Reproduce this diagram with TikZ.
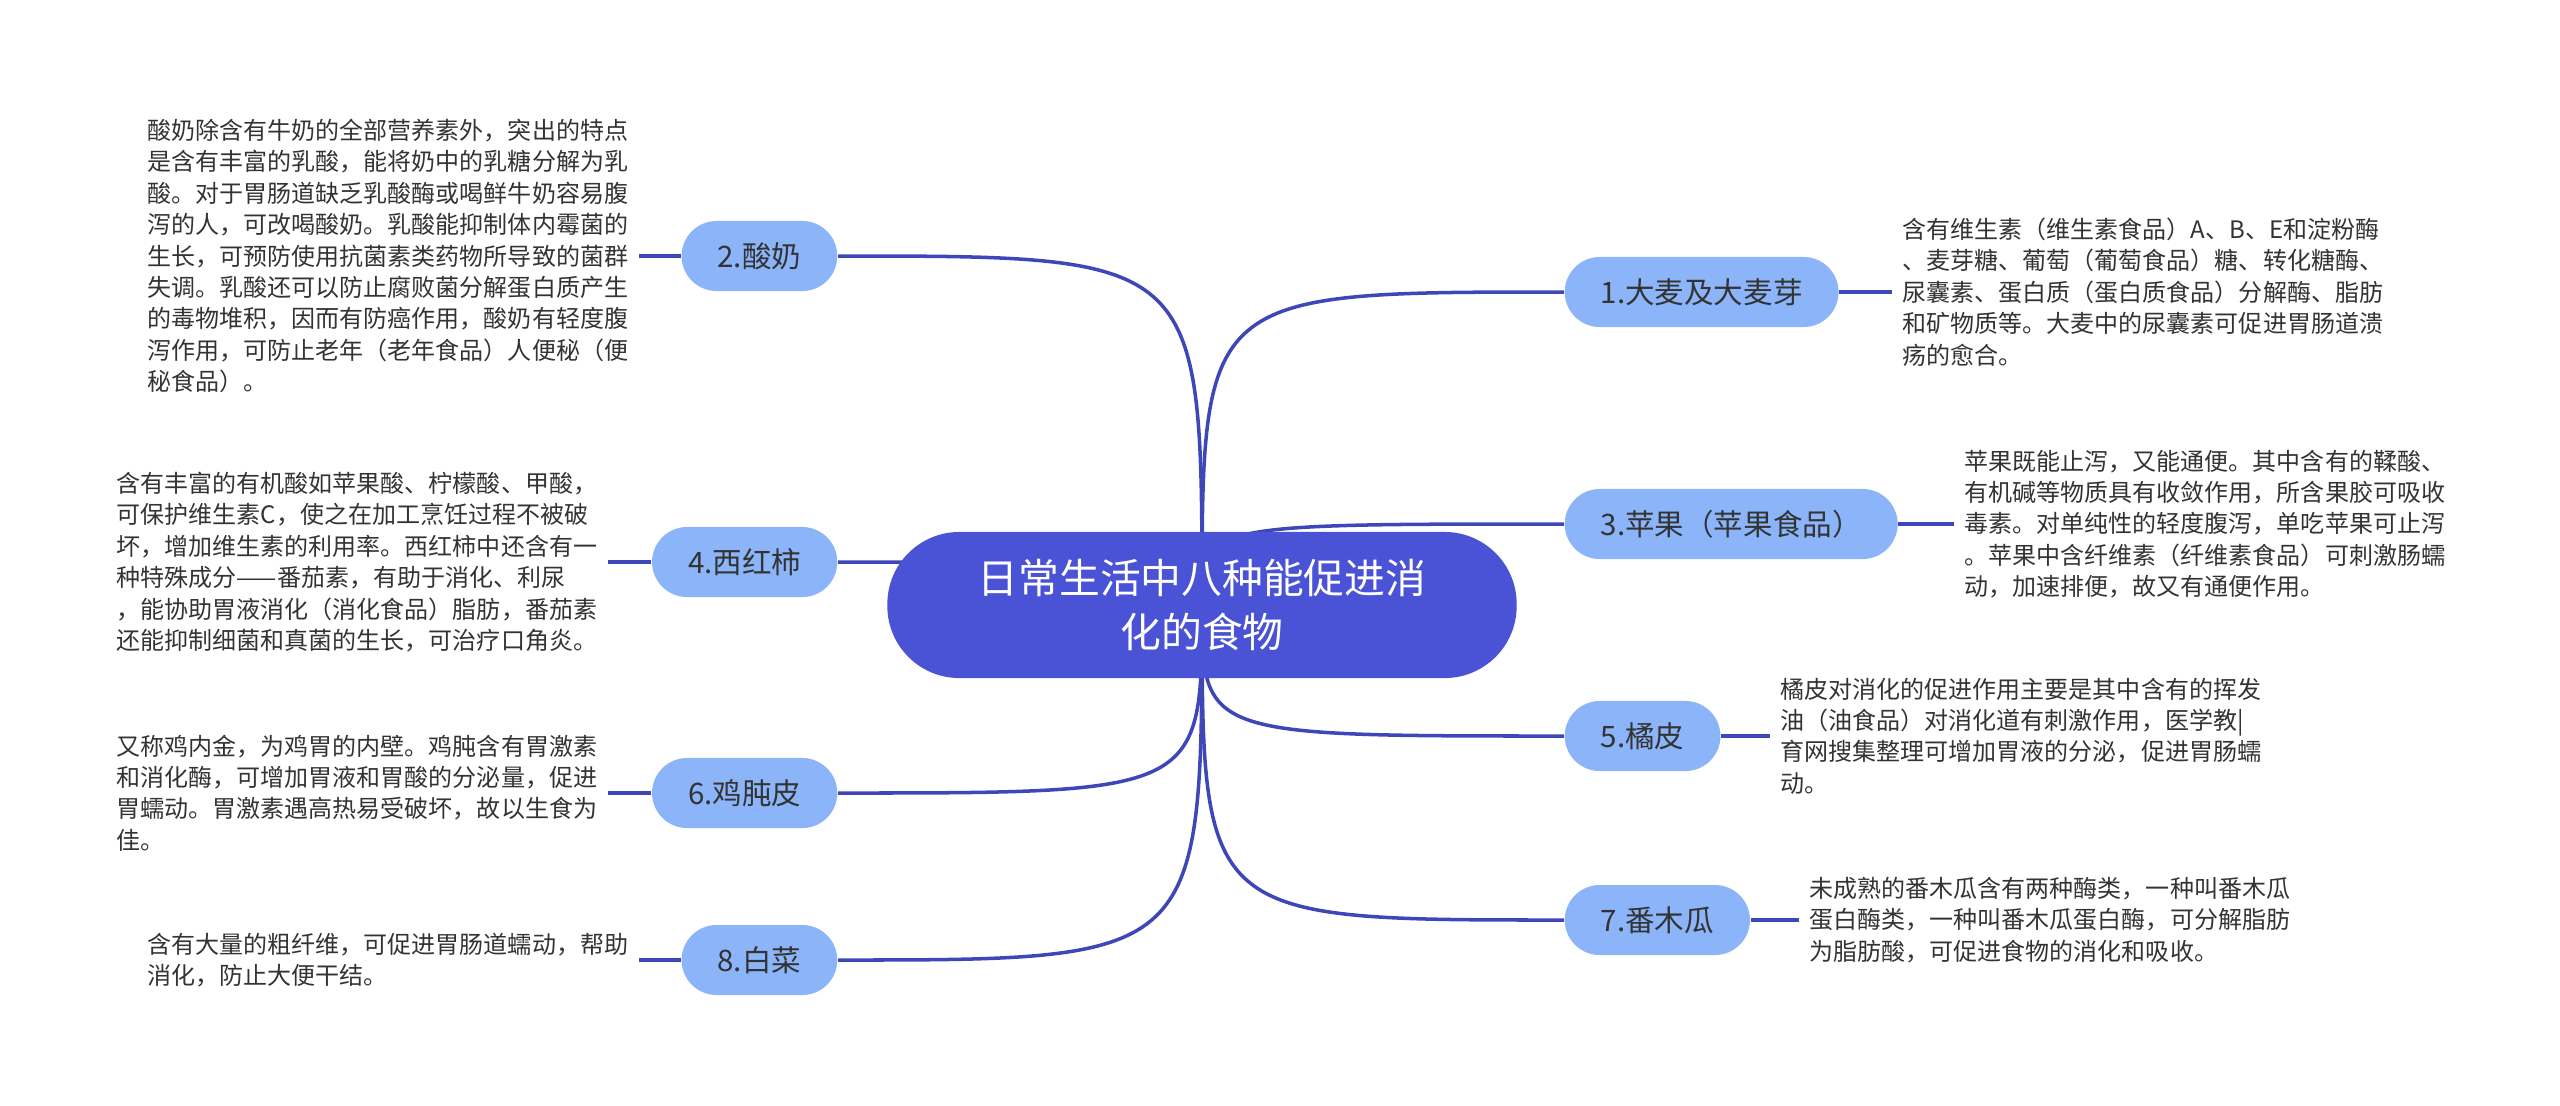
\documentclass[tikz,border=0pt]{standalone}
\usepackage{fontspec}
\usepackage{tikz}
\usepackage{xcolor}
\usetikzlibrary{backgrounds}
\newfontfamily\cjk{Noto Sans CJK SC}
\definecolor{topicblue}{HTML}{4A52D6}
\definecolor{branchblue}{HTML}{8CB5F9}
\definecolor{linkblue}{HTML}{3E47B8}
\definecolor{ink}{HTML}{333333}

\begin{document}
\begin{tikzpicture}[x=0.01cm,y=-0.01cm,
    topic/.style={fill=topicblue,text=white,rounded corners=0.72cm,
      minimum width=6.29cm,minimum height=1.46cm,align=center,
      font=\cjk\fontsize{11.6pt}{15.3pt}\selectfont},
    branch/.style={fill=branchblue,text=ink,rounded corners=0.35cm,
      minimum height=0.7cm,inner xsep=0.36cm,
      font=\cjk\fontsize{8.4pt}{10pt}\selectfont},
    note/.style={text=ink,align=left,inner xsep=0.1cm,inner ysep=0pt,
      font=\cjk\fontsize{6.83pt}{8.93pt}\selectfont},
    link/.style={linkblue,line width=1pt}]
      \useasboundingbox (0,0) rectangle (2560,1105);
      % central topic
      \node[topic] (hub) at (1202,605) {日常生活中八种能促进消\\化的食物};
      % branches, right side
      \node[branch,anchor=west] (n1) at (1564,292) {1.大麦及大麦芽};
      \node[branch,anchor=west] (n3) at (1564,524) {3.苹果（苹果食品）};
      \node[branch,anchor=west] (n5) at (1564,736) {5.橘皮};
      \node[branch,anchor=west] (n7) at (1564,920) {7.番木瓜};
      % branches, left side
      \node[branch,anchor=east] (n2) at (838,256) {2.酸奶};
      \node[branch,anchor=east] (n4) at (838,562) {4.西红柿};
      \node[branch,anchor=east] (n6) at (838,793) {6.鸡肫皮};
      \node[branch,anchor=east] (n8) at (838,960) {8.白菜};
      % notes
      \node[note,anchor=west] (t1) at (1892,292)
        {含有维生素（维生素食品）A、B、E和淀粉酶\\、麦芽糖、葡萄（葡萄食品）糖、转化糖酶、\\尿囊素、蛋白质（蛋白质食品）分解酶、脂肪\\和矿物质等。大麦中的尿囊素可促进胃肠道溃\\疡的愈合。};
      \node[note,anchor=west] (t3) at (1954,524)
        {苹果既能止泻，又能通便。其中含有的鞣酸、\\有机碱等物质具有收敛作用，所含果胶可吸收\\毒素。对单纯性的轻度腹泻，单吃苹果可止泻\\。苹果中含纤维素（纤维素食品）可刺激肠蠕\\动，加速排便，故又有通便作用。};
      \node[note,anchor=west] (t5) at (1770,736)
        {橘皮对消化的促进作用主要是其中含有的挥发\\油（油食品）对消化道有刺激作用，医学教|\\育网搜集整理可增加胃液的分泌，促进胃肠蠕\\动。};
      \node[note,anchor=west] (t7) at (1799,920)
        {未成熟的番木瓜含有两种酶类，一种叫番木瓜\\蛋白酶类，一种叫番木瓜蛋白酶，可分解脂肪\\为脂肪酸，可促进食物的消化和吸收。};
      \node[note,anchor=west] (t2) at (137,256)
        {酸奶除含有牛奶的全部营养素外，突出的特点\\是含有丰富的乳酸，能将奶中的乳糖分解为乳\\酸。对于胃肠道缺乏乳酸酶或喝鲜牛奶容易腹\\泻的人，可改喝酸奶。乳酸能抑制体内霉菌的\\生长，可预防使用抗菌素类药物所导致的菌群\\失调。乳酸还可以防止腐败菌分解蛋白质产生\\的毒物堆积，因而有防癌作用，酸奶有轻度腹\\泻作用，可防止老年（老年食品）人便秘（便\\秘食品）。};
      \node[note,anchor=west] (t4) at (106,562)
        {含有丰富的有机酸如苹果酸、柠檬酸、甲酸，\\可保护维生素C，使之在加工烹饪过程不被破\\坏，增加维生素的利用率。西红柿中还含有一\\种特殊成分——番茄素，有助于消化、利尿\\，能协助胃液消化（消化食品）脂肪，番茄素\\还能抑制细菌和真菌的生长，可治疗口角炎。};
      \node[note,anchor=west] (t6) at (106,793)
        {又称鸡内金，为鸡胃的内壁。鸡肫含有胃激素\\和消化酶，可增加胃液和胃酸的分泌量，促进\\胃蠕动。胃激素遇高热易受破坏，故以生食为\\佳。};
      \node[note,anchor=west] (t8) at (137,960)
        {含有大量的粗纤维，可促进胃肠道蠕动，帮助\\消化，防止大便干结。};
      % connectors, drawn behind the topic
      \begin{pgfonlayer}{background}
        \foreach \b in {n1,n2,n3,n4,n5,n6,n7,n8}
          {\draw[link] (hub.center) .. controls (hub.center |- \b) .. (\b);}
      \end{pgfonlayer}
      \foreach \b/\t in {n1/t1,n2/t2,n3/t3,n4/t4,n5/t5,n6/t6,n7/t7,n8/t8}
        {\draw[link] (\b) -- (\t);}
    \end{tikzpicture}
\end{document}
